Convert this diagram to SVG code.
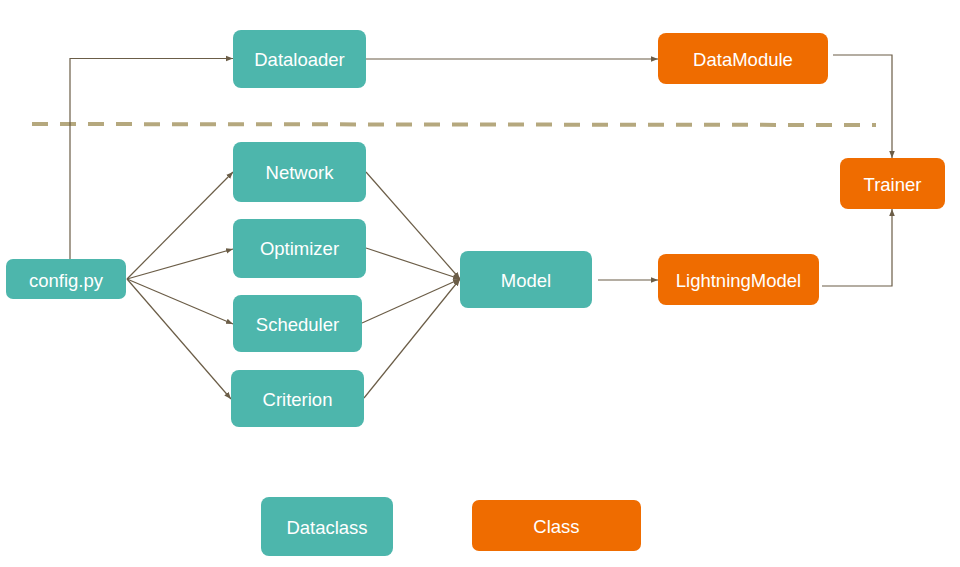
<svg xmlns="http://www.w3.org/2000/svg" width="960" height="567" viewBox="0 0 960 567">
<style>
.t{fill:#4db6ac}
.o{fill:#ef6c00}
text{font-family:"Liberation Sans",Arial,sans-serif;font-size:18.5px;fill:#ffffff;text-anchor:middle;dominant-baseline:central}
.c path{fill:none;stroke:#6b5d47;stroke-width:1.2}
</style>
<defs>
<marker id="a" viewBox="0 0 10 10" refX="10" refY="5" markerWidth="7" markerHeight="7" markerUnits="userSpaceOnUse" orient="auto">
<path d="M0,1 L10,5 L0,9 Z" fill="#6b5d47"/>
</marker>
</defs>
<rect width="960" height="567" fill="#ffffff"/>
<line x1="32" y1="124" x2="876" y2="125" stroke="#b5a87e" stroke-width="4" stroke-dasharray="16,12"/>
<g class="c">
<path d="M70,259 V58.5 H233" marker-end="url(#a)"/>
<path d="M366,59 H658" marker-end="url(#a)"/>
<path d="M833,55 H892 V158" marker-end="url(#a)"/>
<path d="M822,286 H892 V209" marker-end="url(#a)"/>
<path d="M598,280 H658" marker-end="url(#a)"/>
<path d="M127,279 L233,172" marker-end="url(#a)"/>
<path d="M127,279 L233,249" marker-end="url(#a)"/>
<path d="M127,279 L233,324" marker-end="url(#a)"/>
<path d="M127,279 L231,399" marker-end="url(#a)"/>
<path d="M366,172 L460,279" marker-end="url(#a)"/>
<path d="M366,248 L460,279" marker-end="url(#a)"/>
<path d="M362,323 L460,279" marker-end="url(#a)"/>
<path d="M364,398 L460,279" marker-end="url(#a)"/>
</g>
<g id="dataloader"><rect class="t" x="233" y="30" width="133" height="58" rx="8"/><text x="299.5" y="59">Dataloader</text></g>
<g id="network"><rect class="t" x="233" y="142" width="133" height="60" rx="8"/><text x="299.5" y="172">Network</text></g>
<g id="optimizer"><rect class="t" x="233" y="219" width="133" height="59" rx="8"/><text x="299.5" y="248.5">Optimizer</text></g>
<g id="scheduler"><rect class="t" x="233" y="295" width="129" height="57" rx="8"/><text x="297.5" y="324">Scheduler</text></g>
<g id="criterion"><rect class="t" x="231" y="370" width="133" height="57" rx="8"/><text x="297.5" y="399">Criterion</text></g>
<g id="config"><rect class="t" x="6" y="259" width="120" height="40" rx="7"/><text x="66" y="280">config.py</text></g>
<g id="model"><rect class="t" x="460" y="251" width="132" height="57" rx="8"/><text x="526" y="280">Model</text></g>
<g id="datamodule"><rect class="o" x="658" y="33" width="170" height="51" rx="8"/><text x="743" y="59">DataModule</text></g>
<g id="lightningmodel"><rect class="o" x="658" y="254" width="161" height="51" rx="8"/><text x="738.5" y="280">LightningModel</text></g>
<g id="trainer"><rect class="o" x="840" y="158" width="105" height="51" rx="8"/><text x="892.5" y="184">Trainer</text></g>
<g id="legend-dataclass"><rect class="t" x="261" y="497" width="132" height="59" rx="8"/><text x="327" y="527">Dataclass</text></g>
<g id="legend-class"><rect class="o" x="472" y="500" width="169" height="51" rx="7"/><text x="556.5" y="526">Class</text></g>
</svg>
